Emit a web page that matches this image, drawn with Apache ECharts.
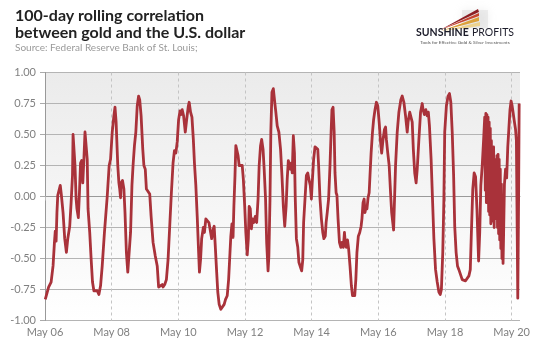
<!DOCTYPE html>
<html>
<head>
<meta charset="utf-8">
<script src="https://cdn.jsdelivr.net/npm/echarts@6/dist/echarts.min.js"></script>
<style>
  html, body { margin: 0; padding: 0; background: #ffffff; }
  #chart { width: 536px; height: 346px; }
</style>
</head>
<body>
<div id="chart"></div>
<script>
// Time position of each observation, in months counted from May 2006
const months = [
  0.1, 1.3, 2.2, 2.9, 3.4, 3.7, 4.0, 4.3, 4.6, 5.2, 5.5, 5.9, 6.5, 7.1, 7.7, 8.2, 8.9, 9.4, 9.9, 10.1,
  10.5, 10.8, 11.2, 11.5, 12.0, 12.4, 12.8, 13.2, 13.6, 14.0, 14.4, 14.8, 15.2, 15.5, 16.1, 16.6, 17.1, 17.6, 18.2, 18.8,
  19.4, 20.0, 20.6, 21.4, 22.4, 23.1, 23.6, 24.2, 24.8, 25.2, 25.6, 26.2, 26.6, 26.9, 27.2, 27.4, 27.9, 28.4, 28.8, 29.3,
  29.8, 30.3, 30.8, 31.3, 31.7, 32.2, 32.7, 33.2, 33.7, 34.1, 34.6, 35.2, 35.6, 36.1, 36.5, 37.1, 37.7, 38.2, 38.9, 39.7,
  40.4, 40.9, 41.6, 42.2, 42.5, 43.1, 43.7, 44.3, 44.9, 45.5, 46.1, 46.6, 47.1, 47.6, 48.1, 48.6, 48.9, 49.4, 49.9, 50.5,
  51.0, 51.6, 51.9, 52.4, 52.9, 53.4, 53.8, 54.3, 54.8, 55.3, 55.6, 56.0, 56.4, 57.0, 57.4, 57.9, 58.5, 59.0, 59.4, 60.0,
  60.6, 60.9, 61.3, 61.8, 62.2, 62.7, 63.3, 63.9, 64.5, 65.0, 65.6, 66.1, 66.6, 66.9, 67.3, 67.7, 68.0, 68.4, 68.7, 69.1,
  69.5, 69.9, 70.4, 71.0, 71.4, 71.9, 72.3, 72.8, 73.2, 73.5, 73.9, 74.3, 74.7, 75.2, 75.7, 76.2, 76.7, 77.1, 77.6, 78.0,
  78.5, 78.9, 79.4, 79.8, 80.3, 80.6, 81.0, 81.3, 81.7, 82.2, 82.7, 83.1, 83.6, 84.2, 84.8, 85.3, 85.8, 86.3, 86.8, 87.2,
  87.6, 88.0, 88.3, 88.7, 89.0, 89.4, 89.8, 90.1, 90.5, 91.0, 91.4, 91.9, 92.4, 92.8, 93.1, 93.6, 94.1, 94.6, 95.0, 95.5,
  95.9, 96.2, 96.7, 97.2, 97.7, 98.2, 98.5, 99.0, 99.5, 100.0, 100.4, 100.9, 101.2, 101.6, 102.1, 102.6, 103.0, 103.3, 103.7, 104.1,
  104.4, 104.8, 105.1, 105.5, 106.0, 106.5, 106.9, 107.4, 107.8, 108.1, 108.5, 108.9, 109.3, 109.8, 110.3, 110.7, 111.1, 111.5, 111.9, 112.3,
  112.8, 113.3, 113.8, 114.1, 114.5, 114.9, 115.2, 115.6, 115.9, 116.3, 116.7, 117.0, 117.4, 117.9, 118.3, 118.8, 119.3, 119.8, 120.3, 120.8,
  121.2, 121.7, 122.2, 122.6, 122.9, 123.4, 123.9, 124.4, 124.8, 125.5, 126.2, 126.8, 127.4, 128.1, 128.6, 129.2, 129.8, 130.4, 130.7, 131.3,
  131.8, 132.2, 132.6, 133.1, 133.6, 134.0, 134.6, 135.2, 135.8, 136.1, 136.6, 137.1, 137.6, 138.0, 138.4, 139.0, 139.5, 140.0, 140.6, 141.2,
  141.8, 142.3, 142.7, 143.2, 143.6, 143.9, 144.5, 145.1, 145.6, 146.1, 146.6, 147.1, 147.5, 148.0, 148.5, 149.0, 149.6, 150.2, 150.8, 151.4,
  152.0, 152.6, 153.1, 153.5, 154.0, 154.5, 155.0, 155.5, 156.1, 156.5, 156.9, 157.4, 157.9, 158.3, 158.5, 158.7, 158.9, 159.1, 159.3, 159.5,
  159.7, 159.9, 160.1, 160.3, 160.5, 160.7, 160.9, 161.1, 161.3, 161.5, 161.7, 161.9, 162.1, 162.3, 162.5, 162.7, 162.9, 163.1, 163.3, 163.5,
  163.7, 163.9, 164.1, 164.3, 164.5, 164.7, 164.9, 165.1, 165.4, 165.8, 166.2, 166.6, 167.0, 167.4, 167.8, 168.1, 168.5, 169.0, 169.4, 169.7,
  170.0, 170.2, 170.5, 170.7
];

// 100-day rolling correlation between gold and the U.S. dollar
const corr = [
  -0.83, -0.73, -0.69, -0.56, -0.37, -0.28, -0.36, -0.13, 0.01, 0.02, 0.09, 0.01, -0.13, -0.34, -0.45, -0.34, -0.24, -0.05, 0.17, 0.50,
  0.49, 0.25, -0.02, -0.10, -0.17, 0.03, 0.27, 0.29, 0.11, 0.30, 0.52, 0.53, 0.30, -0.10, -0.29, -0.50, -0.69, -0.76, -0.77, -0.76,
  -0.79, -0.72, -0.56, -0.29, 0.00, 0.25, 0.30, 0.52, 0.65, 0.72, 0.60, 0.25, 0.11, 0.06, -0.01, 0.11, 0.13, 0.06, -0.13, -0.45,
  -0.61, -0.60, -0.29, 0.09, 0.25, 0.41, 0.52, 0.73, 0.81, 0.78, 0.65, 0.38, 0.25, 0.22, 0.06, 0.05, 0.02, -0.16, -0.37, -0.48,
  -0.56, -0.73, -0.72, -0.71, -0.73, -0.71, -0.67, -0.51, -0.24, 0.03, 0.27, 0.37, 0.35, 0.44, 0.62, 0.69, 0.66, 0.70, 0.65, 0.52,
  0.62, 0.73, 0.76, 0.68, 0.64, 0.46, 0.27, 0.09, -0.16, -0.45, -0.61, -0.51, -0.34, -0.25, -0.29, -0.18, -0.19, -0.21, -0.26, -0.34,
  -0.26, -0.24, -0.40, -0.61, -0.77, -0.87, -0.91, -0.92, -0.87, -0.83, -0.80, -0.67, -0.45, -0.32, -0.22, -0.33, -0.08, 0.17, 0.41, 0.42,
  0.33, 0.25, 0.26, 0.25, 0.14, -0.08, -0.29, -0.47, -0.34, -0.08, -0.10, -0.26, -0.18, -0.21, -0.16, -0.21, -0.02, 0.25, 0.41, 0.46,
  0.38, 0.22, -0.02, -0.37, -0.60, -0.48, -0.02, 0.52, 0.84, 0.87, 0.76, 0.68, 0.57, 0.52, 0.38, 0.17, -0.08, -0.24, -0.08, 0.14,
  0.29, 0.25, 0.22, 0.27, 0.19, 0.49, 0.35, -0.02, -0.34, -0.41, -0.53, -0.54, -0.60, -0.51, -0.21, -0.02, 0.17, 0.19, 0.14, 0.09,
  -0.02, 0.11, 0.30, 0.40, 0.41, 0.38, 0.25, -0.02, -0.18, -0.29, -0.34, -0.32, -0.21, -0.13, -0.02, 0.25, 0.52, 0.70, 0.72, 0.52,
  0.19, 0.03, 0.01, -0.18, -0.37, -0.41, -0.37, -0.41, -0.29, -0.37, -0.41, -0.35, -0.42, -0.56, -0.72, -0.80, -0.81, -0.80, -0.67, -0.45,
  -0.32, -0.29, -0.24, -0.18, -0.05, -0.02, -0.13, -0.08, -0.10, -0.01, 0.03, 0.17, 0.35, 0.52, 0.62, 0.70, 0.76, 0.73, 0.60, 0.44,
  0.35, 0.46, 0.54, 0.56, 0.46, 0.35, 0.25, 0.03, -0.13, -0.27, 0.25, 0.52, 0.68, 0.78, 0.81, 0.76, 0.65, 0.52, 0.60, 0.68,
  0.69, 0.60, 0.38, 0.19, 0.11, 0.22, 0.46, 0.68, 0.75, 0.70, 0.66, 0.70, 0.65, 0.68, 0.57, 0.30, -0.02, -0.34, -0.59, -0.69,
  -0.77, -0.79, -0.75, -0.45, -0.02, 0.52, 0.73, 0.81, 0.83, 0.76, 0.52, 0.17, -0.24, -0.45, -0.56, -0.59, -0.63, -0.67, -0.67, -0.68,
  -0.67, -0.64, -0.59, -0.29, 0.06, 0.19, 0.16, -0.10, -0.52, -0.29, 0.09, 0.25, 0.46, 0.64, 0.05, 0.67, -0.05, 0.66, -0.02, 0.64,
  -0.12, 0.60, -0.15, 0.55, -0.22, 0.45, -0.20, 0.30, -0.15, 0.40, -0.25, 0.28, -0.10, 0.30, -0.18, 0.33, -0.25, 0.34, -0.30, 0.30,
  -0.35, 0.22, -0.42, 0.10, -0.50, -0.20, -0.54, -0.30, 0.10, 0.22, 0.15, 0.40, 0.55, 0.70, 0.77, 0.74, 0.68, 0.60, 0.54, 0.45,
  -0.30, -0.82, 0.00, 0.75
];

// Axis ticks: one every two years, starting May 2006
const xTickMonths = [0, 24, 48, 72, 96, 120, 144, 168];
const xTickLabels = ['May 06', 'May 08', 'May 10', 'May 12', 'May 14', 'May 16', 'May 18', 'May 20'];

const FONT = 'Lato, "Open Sans", sans-serif';

const chart = echarts.init(document.getElementById('chart'), null, { renderer: 'canvas' });

chart.setOption({
  animation: false,
  backgroundColor: '#ffffff',
  title: {
    left: 10,
    top: 2,
    text: '100-day rolling correlation\nbetween gold and the U.S. dollar',
    textStyle: { fontFamily: FONT, fontSize: 16, fontWeight: 'bold', color: '#222222', lineHeight: 17 },
    subtext: 'Source: Federal Reserve Bank of St. Louis;',
    subtextStyle: { fontFamily: FONT, fontSize: 10, color: '#9a9a9a' },
    itemGap: 2
  },
  grid: {
    left: 45, right: 16, top: 72.5, bottom: 25.5,
    show: true,
    borderWidth: 0,
    backgroundColor: new echarts.graphic.LinearGradient(0, 0, 0, 1, [
      { offset: 0, color: '#ebebeb' },
      { offset: 1, color: '#ffffff' }
    ])
  },
  xAxis: {
    type: 'value',
    min: 0,
    max: 171,
    interval: 24,
    axisLine: { show: true, lineStyle: { color: '#999999', width: 1 } },
    axisTick: { show: true, length: 4, customValues: xTickMonths, lineStyle: { color: '#bbbbbb', type: 'dashed' } },
    axisLabel: {
      customValues: xTickMonths,
      margin: 6,
      fontFamily: FONT, fontSize: 11, color: '#808080',
      formatter: v => xTickLabels[xTickMonths.indexOf(v)] || ''
    },
    splitLine: { show: true, lineStyle: { color: '#c4c4c4', type: [3, 3], width: 1 } }
  },
  yAxis: {
    type: 'value',
    min: -1,
    max: 1,
    interval: 0.25,
    axisLine: { show: true, lineStyle: { color: '#999999', width: 1 } },
    axisTick: { show: true, length: 5, lineStyle: { color: '#aaaaaa' } },
    axisLabel: {
      margin: 9,
      fontFamily: FONT, fontSize: 11, color: '#808080',
      formatter: v => v.toFixed(2)
    },
    splitLine: { show: true, lineStyle: { color: '#b4b4b4', width: 1 } }
  },
  series: [{
    type: 'line',
    data: months.map((m, i) => [m, corr[i]]),
    showSymbol: false,
    smooth: false,
    clip: true,
    lineStyle: { color: '#a9323a', width: 2.8, join: 'round' }
  }],
  graphic: [
    // Sunshine Profits logo: light streaks and wordmark
    { type: 'rect', shape: { x: 462, y: 10, width: 26, height: 18 },
      style: { fill: 'rgba(210,210,210,0.35)', shadowBlur: 8, shadowColor: 'rgba(200,200,200,0.8)' } },
    { type: 'polygon', shape: { points: [[440, 30], [478, 9], [479, 12]] }, style: { fill: '#8e1f24' } },
    { type: 'polygon', shape: { points: [[440, 30], [479, 13], [479, 16]] }, style: { fill: '#c8452e' } },
    { type: 'polygon', shape: { points: [[441, 31], [479, 17], [479, 21]] }, style: { fill: '#dca23a' } },
    { type: 'polygon', shape: { points: [[443, 31], [480, 22], [480, 26]] }, style: { fill: 'rgba(238,205,120,0.8)' } },
    { type: 'text', x: 465, y: 33,
      style: {
        text: '{a|SUNSHINE} {b|PROFITS}',
        align: 'center', verticalAlign: 'middle',
        rich: {
          a: { fontFamily: FONT, fontSize: 10.5, fontWeight: 'bold', fill: '#1c1c2a' },
          b: { fontFamily: FONT, fontSize: 10.5, fontWeight: 'normal', fill: '#1c1c2a' }
        }
      } },
    { type: 'text', x: 465, y: 43,
      style: {
        text: 'Tools for Effective Gold & Silver Investments',
        align: 'center', verticalAlign: 'middle',
        fontFamily: FONT, fontSize: 4.6, fill: '#555555'
      } }
  ]
});
</script>
</body>
</html>
